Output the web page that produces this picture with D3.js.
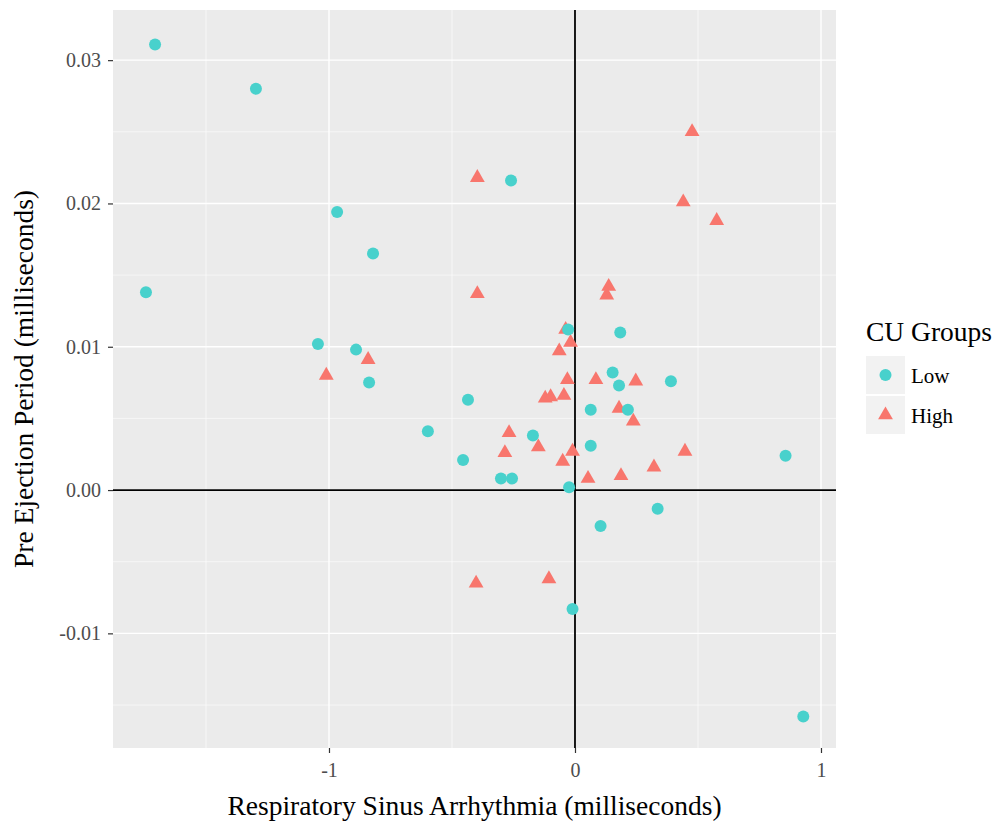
<!DOCTYPE html>
<html>
<head>
<meta charset="utf-8">
<script src="https://cdn.jsdelivr.net/npm/d3@7"></script>
<style>
  body { margin: 0; background: #fff; }
  svg text { font-family: 'Liberation Serif', 'Times New Roman', serif; }
</style>
</head>
<body>
<div id="chart"></div>
<script>
// data (RSA, PEP)
var lowRSA = [-1.707, -1.297, -1.744, -0.967, -0.821, -1.045, -0.890, -0.837, -0.598, -0.435,
  -0.455, -0.301, -0.256, -0.171, -0.260, -0.028, 0.184, 0.153, 0.179, 0.390,
  0.064, 0.215, 0.064, 0.856, -0.024, 0.336, 0.104, -0.010, 0.928];
var lowPEP = [0.0311, 0.0280, 0.0138, 0.0194, 0.0165, 0.0102, 0.0098, 0.0075, 0.0041, 0.0063,
  0.0021, 0.0008, 0.0008, 0.0038, 0.0216, 0.0112, 0.0110, 0.0082, 0.0073, 0.0076,
  0.0056, 0.0056, 0.0031, 0.0024, 0.0002, -0.0013, -0.0025, -0.0083, -0.0158];

var highRSA = [-0.397, 0.476, 0.440, 0.576, -0.397, 0.137, 0.129, -0.038, -0.018, -0.064,
  -0.031, 0.085, 0.247, -0.045, -0.121, -0.099, 0.179, 0.237, -0.268, -0.149,
  -0.285, -0.010, -0.050, 0.447, 0.321, 0.187, 0.053, -0.841, -1.011, -0.402, -0.106];
var highPEP = [0.0218, 0.0250, 0.0201, 0.0188, 0.0137, 0.0142, 0.0136, 0.0112, 0.0103, 0.0097,
  0.0077, 0.0077, 0.0076, 0.0066, 0.0064, 0.0065, 0.0057, 0.0048, 0.0040, 0.0030,
  0.0026, 0.0027, 0.0020, 0.0027, 0.0016, 0.0010, 0.0008, 0.0091, 0.0080, -0.0065, -0.0062];

var xTicks = [-1, 0, 1];
var xMinor = [-1.5, -0.5, 0.5];
var yTicks = [-0.01, 0, 0.01, 0.02, 0.03];
var yMinor = [-0.015, -0.005, 0.005, 0.015, 0.025];
var groups = ['Low', 'High'];

var W = 995, H = 825;
var margin = {top: 10, right: 159, bottom: 77, left: 113};
var width = W - margin.left - margin.right;
var height = H - margin.top - margin.bottom;

var x = d3.scaleLinear().domain([-1.878, 1.061]).range([0, width]);
var y = d3.scaleLinear().domain([-0.0180, 0.0335]).range([height, 0]);

var svg = d3.select('#chart').append('svg')
    .attr('width', W)
    .attr('height', H)
  .append('g')
    .attr('transform', 'translate(' + margin.left + ',' + margin.top + ')');

// panel
svg.append('rect')
  .attr('width', width)
  .attr('height', height)
  .attr('fill', '#ebebeb');

// minor grid
svg.selectAll('line.xminor').data(xMinor).enter().append('line')
  .attr('x1', function(d) { return x(d); }).attr('x2', function(d) { return x(d); })
  .attr('y1', 0).attr('y2', height)
  .attr('stroke', '#fafafa').attr('stroke-width', 0.7);
svg.selectAll('line.yminor').data(yMinor).enter().append('line')
  .attr('y1', function(d) { return y(d); }).attr('y2', function(d) { return y(d); })
  .attr('x1', 0).attr('x2', width)
  .attr('stroke', '#fafafa').attr('stroke-width', 0.7);

// major grid
svg.selectAll('line.xmajor').data(xTicks).enter().append('line')
  .attr('x1', function(d) { return x(d); }).attr('x2', function(d) { return x(d); })
  .attr('y1', 0).attr('y2', height)
  .attr('stroke', '#fff').attr('stroke-width', 1.4);
svg.selectAll('line.ymajor').data(yTicks).enter().append('line')
  .attr('y1', function(d) { return y(d); }).attr('y2', function(d) { return y(d); })
  .attr('x1', 0).attr('x2', width)
  .attr('stroke', '#fff').attr('stroke-width', 1.4);

// reference lines at zero
svg.append('line')
  .attr('x1', x(0)).attr('x2', x(0)).attr('y1', 0).attr('y2', height)
  .attr('stroke', '#000').attr('stroke-width', 1.8);
svg.append('line')
  .attr('y1', y(0)).attr('y2', y(0)).attr('x1', 0).attr('x2', width)
  .attr('stroke', '#000').attr('stroke-width', 1.8);

// axes (plain hyphen for negatives, like R)
var hyphen = function(f) { return function(d) { return f(d).replace('\u2212', '-'); }; };
var xAxis = d3.axisBottom(x).tickValues(xTicks).tickSize(5).tickPadding(10)
  .tickFormat(hyphen(d3.format('d')));
var yAxis = d3.axisLeft(y).tickValues(yTicks).tickSize(5).tickPadding(7)
  .tickFormat(hyphen(d3.format('.2f')));

var gx = svg.append('g').attr('transform', 'translate(0,' + height + ')').call(xAxis);
var gy = svg.append('g').call(yAxis);
[gx, gy].forEach(function(g) {
  g.select('.domain').remove();
  g.selectAll('.tick line').attr('stroke', '#333').attr('stroke-width', 1.2);
  g.selectAll('.tick text')
    .attr('font-family', 'Liberation Serif')
    .attr('font-size', '20px')
    .attr('fill', '#4d4d4d');
});

// points
var lowData = lowRSA.map(function(d, i) { return {x: d, y: lowPEP[i]}; });
var highData = highRSA.map(function(d, i) { return {x: d, y: highPEP[i]}; });

var tri = d3.symbol().type(d3.symbolTriangle).size(95);

svg.selectAll('path.high').data(highData).enter().append('path')
  .attr('class', 'high')
  .attr('d', tri)
  .attr('transform', function(d) { return 'translate(' + x(d.x) + ',' + y(d.y) + ')'; })
  .attr('fill', '#f8766d');

svg.selectAll('circle.low').data(lowData).enter().append('circle')
  .attr('class', 'low')
  .attr('cx', function(d) { return x(d.x); })
  .attr('cy', function(d) { return y(d.y); })
  .attr('r', 6)
  .attr('fill', '#48d1cc');

// axis titles
svg.append('text')
  .attr('x', width / 2)
  .attr('y', height + 67)
  .attr('text-anchor', 'middle')
  .attr('font-size', '27.5px')
  .attr('fill', '#000')
  .text('Respiratory Sinus Arrhythmia (milliseconds)');

svg.append('text')
  .attr('transform', 'translate(' + (-80) + ',' + (height / 2) + ') rotate(-90)')
  .attr('text-anchor', 'middle')
  .attr('font-size', '27.5px')
  .attr('fill', '#000')
  .text('Pre Ejection Period (milliseconds)');

// legend
var legend = svg.append('g').attr('transform', 'translate(' + (width + 30) + ',0)');
legend.append('text')
  .attr('x', 0).attr('y', 331)
  .attr('font-size', '27.5px')
  .attr('fill', '#000')
  .text('CU Groups');

var keys = legend.selectAll('g.key').data(groups).enter().append('g')
  .attr('class', 'key')
  .attr('transform', function(d, i) { return 'translate(0,' + (346 + i * 40) + ')'; });
keys.append('rect')
  .attr('width', 39).attr('height', 38)
  .attr('fill', '#f2f2f2');
keys.each(function(d) {
  var g = d3.select(this);
  if (d === 'Low') {
    g.append('circle').attr('cx', 19.5).attr('cy', 19).attr('r', 6).attr('fill', '#48d1cc');
  } else {
    g.append('path').attr('d', tri).attr('transform', 'translate(19.5,19)').attr('fill', '#f8766d');
  }
});
keys.append('text')
  .attr('x', 45).attr('y', 27)
  .attr('font-size', '21px')
  .attr('fill', '#000')
  .text(function(d) { return d; });
</script>
</body>
</html>
